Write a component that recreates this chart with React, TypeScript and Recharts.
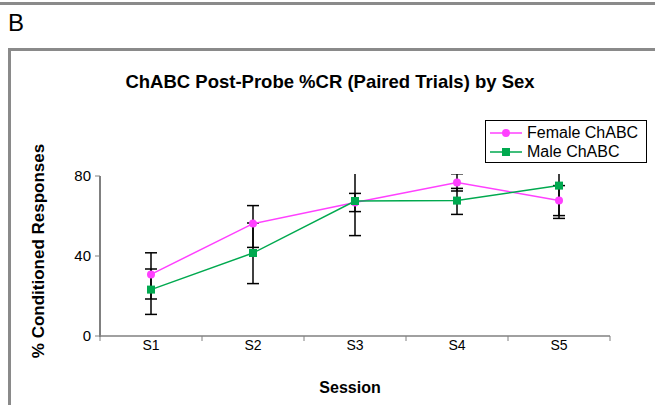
import React from "react"
import { LineChart, Line, XAxis, YAxis, ErrorBar, Legend } from "recharts"

// session labels and group means (% conditioned responses)
const sessions = ["S1", "S2", "S3", "S4", "S5"]
const femaleMean = [30.8, 56.2, 66.8, 76.8, 67.7]
const maleMean = [23.2, 41.5, 67.5, 67.7, 75.2]
// error bar extents as [below, above]
const femaleErr = [[12.3, 10.8], [11.9, 9], [4.6, 4.5], [4.3, 4.3], [7.5, 7.5]]
const maleErr = [[12.4, 10.3], [15.3, 15], [17.3, 17.3], [6.9, 6.1], [16.4, 16.4]]
const yTicks = [0, 40, 80]

const PINK = "#ff40ff"
const GREEN = "#00a94f"
const AXIS = "#808080"
const FONT = "'Liberation Sans', Arial, sans-serif"

const W = 655
const H = 405
const MARGIN = { top: 176, right: 45, bottom: 39, left: 40 }
const Y_AXIS_W = 60
const X_AXIS_H = 30
const PLOT_H = H - MARGIN.top - MARGIN.bottom - X_AXIS_H

const rows = sessions.map((s, i) => ({
  session: s,
  female: femaleMean[i],
  male: maleMean[i],
  femaleErr: femaleErr[i],
  maleErr: maleErr[i],
}))

const SquareDot = (props: any) => {
  const { cx, cy } = props
  if (cx == null || cy == null) return null
  return <rect x={cx - 4} y={cy - 4} width={8} height={8} fill={GREEN} />
}

// category label plus tick marks on the category boundaries
const SessionTick = (props: any) => {
  const { x, y, payload, index, visibleTicksCount, width } = props
  const half = width / visibleTicksCount / 2
  return (
    <g>
      <line x1={x - half} y1={y} x2={x - half} y2={y + 5} stroke={AXIS} />
      {index === visibleTicksCount - 1 && <line x1={x + half} y1={y} x2={x + half} y2={y + 5} stroke={AXIS} />}
      <text x={x} y={y + 4} dy="0.71em" textAnchor="middle" fill="#000" fontSize={14}>
        {payload.value}
      </text>
    </g>
  )
}

const ValueTick = (props: any) => {
  const { x, y, payload } = props
  return (
    <g>
      <line x1={x - 5} y1={y} x2={x} y2={y} stroke={AXIS} />
      <text x={x - 9} y={y} dy="0.355em" textAnchor="end" fill="#000" fontSize={15}>
        {payload.value}
      </text>
    </g>
  )
}

const LegendBox = () => (
  <div
    style={{
      border: "1px solid #000",
      background: "#fff",
      width: 160,
      height: 41,
      boxSizing: "content-box",
      fontFamily: FONT,
      fontSize: 16,
      color: "#000",
    }}
  >
    {[
      { name: "Female ChABC", color: PINK, square: false },
      { name: "Male ChABC", color: GREEN, square: true },
    ].map((item, i) => (
      <div key={item.name} style={{ display: "flex", alignItems: "center", height: 18, marginTop: i === 0 ? 3 : 1 }}>
        <svg width={32} height={10} style={{ marginLeft: 4, marginRight: 5 }}>
          <line x1={0} y1={5} x2={32} y2={5} stroke={item.color} strokeWidth={1.5} />
          {item.square ? (
            <rect x={12} y={1} width={8} height={8} fill={item.color} />
          ) : (
            <circle cx={16} cy={5} r={4} fill={item.color} />
          )}
        </svg>
        <span style={{ lineHeight: "18px" }}>{item.name}</span>
      </div>
    ))}
  </div>
)

export default function App() {
  return (
    <div style={{ position: "absolute", left: 0, top: 0, width: W, height: H, background: "#fff", fontFamily: FONT, overflow: "hidden" }}>
      <style>{".recharts-errorBars { clip-path: url(#plotClip); }"}</style>
      {/* panel frames */}
      <div style={{ position: "absolute", left: 0, top: 2, width: W, height: 3, background: "#8a8a8a" }} />
      <div style={{ position: "absolute", left: 8, top: 48, width: 660, height: 400, borderTop: "3px solid #8a8a8a", borderLeft: "3px solid #8a8a8a" }} />
      <div style={{ position: "absolute", left: 8, top: 9, fontSize: 24, color: "#000" }}>B</div>

      <div style={{ position: "absolute", left: 0, top: 0 }}>
        <LineChart width={W} height={H} data={rows} margin={MARGIN}>
          <defs>
            <clipPath id="plotClip">
              <rect x={90} y={MARGIN.top - 2} width={530} height={PLOT_H + 8} />
            </clipPath>
          </defs>
          <XAxis
            dataKey="session"
            padding={{ left: 51, right: 51 }}
            axisLine={{ stroke: AXIS, strokeWidth: 1.5 }}
            tickLine={false}
            tickSize={0}
            tickMargin={0}
            height={X_AXIS_H}
            interval={0}
            tick={<SessionTick />}
          />
          <YAxis
            width={Y_AXIS_W}
            domain={[0, 80]}
            ticks={yTicks}
            allowDataOverflow
            axisLine={{ stroke: AXIS, strokeWidth: 1.5 }}
            tickLine={false}
            tickSize={0}
            tickMargin={0}
            interval={0}
            tick={<ValueTick />}
          />
          <Legend
            layout="vertical"
            align="center"
            verticalAlign="middle"
            content={() => <LegendBox />}
            wrapperStyle={{ position: "absolute", left: 485, top: 120, width: "auto" }}
          />
          {/* error bars first so the markers sit on top */}
          <Line dataKey="female" stroke="none" dot={false} isAnimationActive={false} legendType="none">
            <ErrorBar dataKey="femaleErr" width={6} stroke="#000" strokeWidth={1.5} />
          </Line>
          <Line dataKey="male" stroke="none" dot={false} isAnimationActive={false} legendType="none">
            <ErrorBar dataKey="maleErr" width={6} stroke="#000" strokeWidth={1.5} />
          </Line>
          <Line
            dataKey="female"
            name="Female ChABC"
            stroke={PINK}
            strokeWidth={1.5}
            dot={{ r: 4, fill: PINK, stroke: PINK, strokeWidth: 0 }}
            isAnimationActive={false}
          />
          <Line
            dataKey="male"
            name="Male ChABC"
            stroke={GREEN}
            strokeWidth={1.5}
            dot={<SquareDot />}
            isAnimationActive={false}
          />
        </LineChart>
      </div>

      {/* value axis line, kept above the chart layers */}
      <div
        style={{
          position: "absolute",
          zIndex: 10,
          left: MARGIN.left + Y_AXIS_W - 1,
          top: MARGIN.top,
          width: 1.5,
          height: PLOT_H + 1,
          background: AXIS,
        }}
      />

      <div style={{ position: "absolute", left: 80, width: 500, top: 71, textAlign: "center", fontSize: 18.5, fontWeight: "bold", color: "#000" }}>
        ChABC Post-Probe %CR (Paired Trials) by Sex
      </div>
      <div
        style={{
          position: "absolute",
          left: 39,
          top: 251,
          transform: "translate(-50%, -50%) rotate(-90deg)",
          whiteSpace: "nowrap",
          fontSize: 17,
          fontWeight: "bold",
          color: "#000",
          pointerEvents: "none",
        }}
      >
        % Conditioned Responses
      </div>
      <div style={{ position: "absolute", left: 300, width: 100, top: 379, textAlign: "center", fontSize: 16, fontWeight: "bold", color: "#000" }}>
        Session
      </div>
    </div>
  )
}
